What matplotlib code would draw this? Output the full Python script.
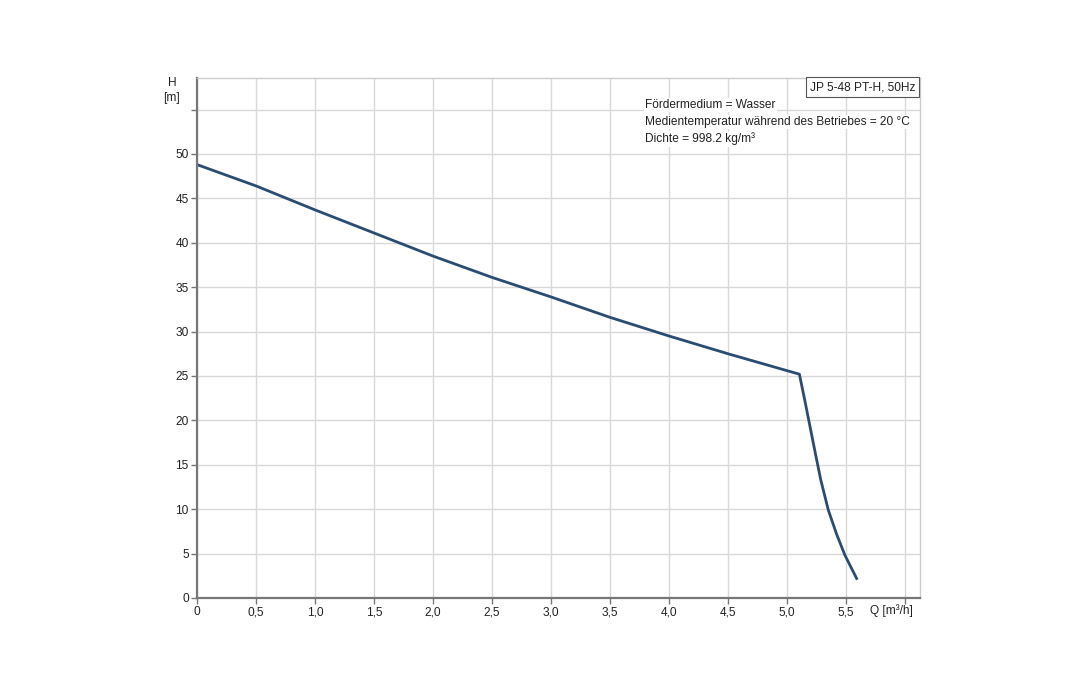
import matplotlib
matplotlib.use("Agg")
import matplotlib.pyplot as plt
import numpy as np

plt.rcParams['font.family'] = ['Liberation Sans', 'DejaVu Sans']

q = [0.0, 0.5, 1.0, 1.5, 2.0, 2.5, 3.0, 3.5, 4.0, 4.5, 5.105, 5.15, 5.195, 5.24, 5.286, 5.35, 5.42, 5.49, 5.59]
h = [48.8, 46.4, 43.7, 41.1, 38.5, 36.1, 33.9, 31.6, 29.5, 27.5, 25.2, 22.3, 19.3, 16.3, 13.3, 9.9, 7.2, 4.84, 2.2]

x_ticks = [0, 0.5, 1.0, 1.5, 2.0, 2.5, 3.0, 3.5, 4.0, 4.5, 5.0, 5.5, 6.0]
x_labels = ["0", "0,5", "1,0", "1,5", "2,0", "2,5", "3,0", "3,5", "4,0", "4,5", "5,0", "5,5", ""]
y_ticks = [0, 5, 10, 15, 20, 25, 30, 35, 40, 45, 50, 55]
y_labels = ["0", "5", "10", "15", "20", "25", "30", "35", "40", "45", "50", ""]

title_box = "JP 5-48 PT-H, 50Hz"
info_lines = ["Fördermedium = Wasser",
              "Medientemperatur während des Betriebes = 20 °C",
              "Dichte = 998.2 kg/m³"]

FS = 8.6
fig = plt.figure(figsize=(10.8, 6.98), dpi=100)
W, H = 1080, 698
left, right, top, bottom = 197, 920, 78, 598
ax = fig.add_axes([left / W, 1 - bottom / H, (right - left) / W, (bottom - top) / H])

ax.plot(q, h, color='#2b4c72', lw=2.0, solid_joinstyle='round')
ax.set_xlim(0, 6.127)
ax.set_ylim(0, 58.55)
ax.set_xticks(x_ticks)
ax.set_xticklabels(x_labels)
ax.set_yticks(y_ticks)
ax.set_yticklabels(y_labels)
ax.grid(True, color='#d9d9d9', lw=1.0)
ax.set_axisbelow(True)
for s in ['top', 'right']:
    ax.spines[s].set_color('#cccccc')
    ax.spines[s].set_linewidth(1.0)
for s in ['left', 'bottom']:
    ax.spines[s].set_color('#777777')
    ax.spines[s].set_linewidth(1.6)
ax.tick_params(axis='both', direction='out', length=4, width=1, color='#777777',
               labelsize=FS, labelcolor='#222222', pad=2)

fig.text(172 / W, 1 - 83 / H, "H", fontsize=FS, ha='center', va='center', color='#222222')
fig.text(172 / W, 1 - 98 / H, "[m]", fontsize=FS, ha='center', va='center', color='#222222')
fig.text(870 / W, 1 - 611 / H, "Q [m³/h]", fontsize=FS, ha='left', va='center', color='#222222')

fig.text(915 / W, 1 - 87 / H, title_box, fontsize=FS, ha='right', va='center', color='#222222',
         bbox=dict(boxstyle='square,pad=0.3', fc='white', ec='#555555', lw=0.8))
for i, line in enumerate(info_lines):
    fig.text(645 / W, 1 - (105 + 17 * i) / H, line, fontsize=FS, ha='left', va='center',
             color='#222222', bbox=dict(boxstyle='square,pad=0.1', fc='white', ec='none'))

fig.savefig("out.png", dpi=100, facecolor='white')
